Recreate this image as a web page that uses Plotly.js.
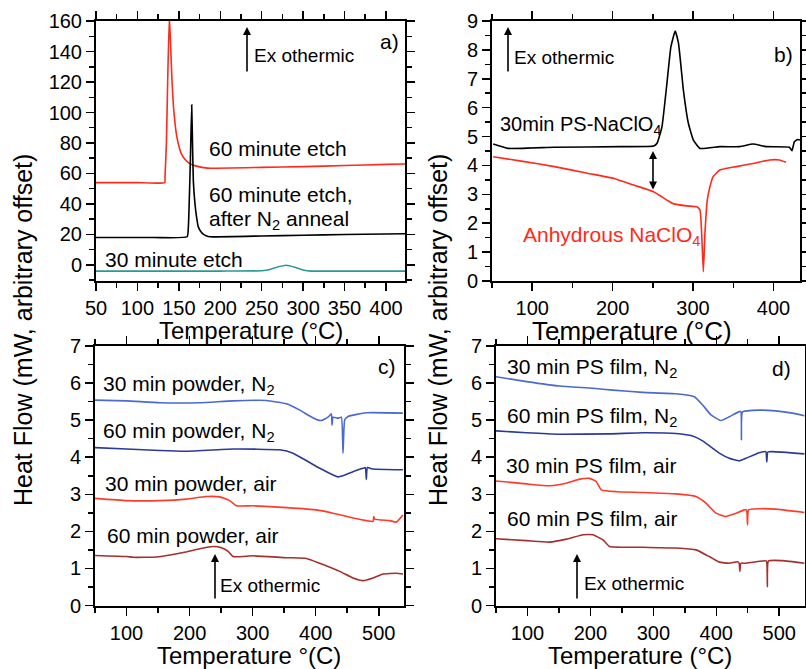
<!DOCTYPE html>
<html><head><meta charset="utf-8">
<script src="https://cdn.plot.ly/plotly-3.0.1.min.js"></script>
<style>html,body{margin:0;padding:0;background:#fff}#chart{width:806px;height:669px}</style>
</head><body><div id="chart"></div>
<script>
// ---------- Panel a) ----------
const aRedT = [50, 100, 133, 133.3, 135, 136.5, 138.5, 139.5, 140.5, 141.5, 142.5, 143.5, 145, 147, 150, 153, 157, 163, 170, 178, 185, 250, 300, 350, 400, 423];
const aRedV = [54, 54, 54, 58, 80, 120, 163, 152, 138, 124, 113, 104, 95, 86, 78, 73, 69.5, 66.5, 65, 64, 63.5, 64, 64.5, 65.2, 66, 66.2];
const aBlkT = [50, 120, 160, 161.5, 163, 164, 165.5, 166.5, 167.5, 169.5, 171.5, 173.5, 176.5, 179.5, 183.5, 187.6, 250, 300, 350, 423];
const aBlkV = [18, 18, 18.5, 25, 50, 70, 105, 80, 55, 40, 31, 25, 22, 20.2, 19, 18.5, 19, 19.5, 20, 20.5];
const aTealT = [50, 200, 250, 260, 270, 280, 290, 300, 310, 350, 423];
const aTealV = [-4, -4, -3.8, -3, -1.2, -0.2, -1.5, -3.3, -4, -4, -4];

// ---------- Panel b) ----------
const bBlkT = [51.5, 70, 127.6, 210, 251, 255.2, 261.3, 267.5, 272.5, 277.8, 281.9, 288, 294.2, 300.4, 308.6, 333.3, 358, 374.5, 391, 419.8, 423, 426, 430.1, 433];
const bBlkV = [4.74, 4.59, 4.63, 4.65, 4.67, 4.77, 5.33, 6.84, 8.11, 8.65, 8.23, 6.61, 5.46, 4.88, 4.59, 4.65, 4.65, 4.74, 4.65, 4.63, 4.51, 4.82, 4.90, 4.88];
const bRedT = [51.5, 86.4, 127.6, 168.7, 201.6, 226.3, 251, 267.5, 275.7, 292.2, 304.6, 308.6, 310.7, 312.8, 314.8, 317.7, 321, 325, 333.3, 354, 374.5, 395, 407.4, 415.7];
const bRedV = [4.30, 4.15, 3.96, 3.73, 3.55, 3.32, 3.09, 2.80, 2.67, 2.60, 2.57, 2.46, 1.65, 0.32, 1.65, 2.80, 3.26, 3.61, 3.84, 3.96, 4.07, 4.19, 4.19, 4.11];

// ---------- Panel c) ----------
const cT1 = [50, 100, 152.8, 216.2, 269, 321.9, 353.6, 374.7, 390.5, 401.1, 409, 419.5, 424.8, 425.9, 427.5, 435.4, 440.7, 443.3, 446, 451.3, 480.3, 538.3];
const cV1 = [5.54, 5.52, 5.47, 5.47, 5.52, 5.53, 5.44, 5.27, 5.11, 5.02, 4.99, 5.08, 5.17, 4.87, 5.08, 5.05, 5.08, 4.11, 5.01, 5.10, 5.20, 5.19];
const cT2 = [50, 100, 152.8, 190, 269, 343, 364, 385, 401, 417, 427.5, 435.4, 443.3, 459.2, 475, 478.7, 480.3, 481.9, 490.9, 538.3];
const cV2 = [4.26, 4.22, 4.18, 4.16, 4.22, 4.20, 4.11, 3.91, 3.75, 3.61, 3.52, 3.47, 3.50, 3.61, 3.70, 3.72, 3.40, 3.72, 3.68, 3.66];
const cT3 = [50, 100, 152.8, 195, 226.6, 247.8, 263.6, 274.2, 300.6, 353.6, 401, 427.5, 459.2, 480.3, 490.9, 492, 493.5, 517.3, 527.9, 538.3];
const cV3 = [2.89, 2.83, 2.83, 2.87, 2.94, 2.93, 2.83, 2.69, 2.69, 2.64, 2.58, 2.49, 2.36, 2.29, 2.27, 2.40, 2.33, 2.29, 2.25, 2.44];
const cT4 = [50, 100, 110.6, 147.6, 190, 216.2, 237.4, 250.6, 261.2, 269, 300.6, 353.6, 385.3, 406.4, 438.1, 459.2, 475, 490.9, 506.7, 527.9, 538.3];
const cV4 = [1.35, 1.32, 1.30, 1.31, 1.43, 1.53, 1.59, 1.56, 1.46, 1.32, 1.34, 1.29, 1.27, 1.14, 0.92, 0.74, 0.67, 0.74, 0.85, 0.87, 0.85];

// ---------- Panel d) ----------
const dT1 = [49.8, 98.4, 151.2, 204, 235.7, 283.2, 336.1, 365.1, 378.3, 391.6, 407.5, 420.6, 436.4, 439.1, 440, 441.7, 468.1, 494.6, 520.9, 540];
const dV1 = [6.17, 6.04, 5.92, 5.86, 5.81, 5.75, 5.71, 5.63, 5.41, 5.14, 4.99, 5.09, 5.23, 5.23, 4.47, 5.22, 5.27, 5.25, 5.19, 5.12];
const dT2 = [49.8, 98.4, 151.2, 230.4, 283.2, 336.1, 362.5, 378.3, 394.2, 404.8, 420.6, 436.4, 447, 468.1, 478.7, 480.3, 481.9, 489.3, 540];
const dV2 = [4.71, 4.66, 4.62, 4.63, 4.66, 4.64, 4.57, 4.44, 4.24, 4.11, 3.97, 3.90, 3.97, 4.12, 4.15, 3.87, 4.14, 4.15, 4.09];
const dT3 = [49.8, 98.4, 135.4, 161.8, 183, 198.8, 209.4, 217.3, 241.1, 283.2, 336.1, 367.8, 383.7, 399.5, 415.4, 428.6, 444.4, 448.1, 449.7, 451.3, 468.1, 494.6, 540];
const dV3 = [3.36, 3.28, 3.23, 3.30, 3.41, 3.43, 3.34, 3.12, 3.07, 3.05, 3.01, 2.94, 2.76, 2.49, 2.40, 2.47, 2.58, 2.58, 2.18, 2.58, 2.61, 2.60, 2.51];
const dT4 = [49.8, 98.4, 135.4, 161.8, 188.3, 204.1, 220, 230.5, 283.2, 336.1, 367.8, 388.9, 404.8, 420.6, 433.8, 436.4, 437.5, 439.1, 447, 473.4, 479.7, 481.2, 482.9, 505.1, 540];
const dV4 = [1.80, 1.75, 1.71, 1.79, 1.91, 1.91, 1.77, 1.59, 1.57, 1.55, 1.50, 1.32, 1.17, 1.14, 1.18, 1.14, 0.92, 1.14, 1.14, 1.20, 1.20, 0.51, 1.20, 1.21, 1.14];

const F = 'Liberation Sans, Arial, Helvetica, sans-serif';
const W = 806, H = 669;
const px = x => x / W, py = y => 1 - y / H;

function ln(x, y, color, xa, ya) {
  return {x, y, type: 'scatter', mode: 'lines', line: {color, width: 1.6, shape: 'spline', smoothing: 0.4}, xaxis: xa, yaxis: ya, hoverinfo: 'skip'};
}
const traces = [
  ln(aRedT, aRedV, '#ff2a1a', 'x', 'y'),
  ln(aBlkT, aBlkV, '#000000', 'x', 'y'),
  ln(aTealT, aTealV, '#2a9896', 'x', 'y'),
  ln(bBlkT, bBlkV, '#000000', 'x2', 'y2'),
  ln(bRedT, bRedV, '#ff2a1a', 'x2', 'y2'),
  ln(cT1, cV1, '#4a6acd', 'x3', 'y3'),
  ln(cT2, cV2, '#2c3a96', 'x3', 'y3'),
  ln(cT3, cV3, '#ff3a2a', 'x3', 'y3'),
  ln(cT4, cV4, '#a3302c', 'x3', 'y3'),
  ln(dT1, dV1, '#4a6acd', 'x4', 'y4'),
  ln(dT2, dV2, '#2c3a96', 'x4', 'y4'),
  ln(dT3, dV3, '#ff3a2a', 'x4', 'y4'),
  ln(dT4, dV4, '#a3302c', 'x4', 'y4')
];

function axis(domain, range, dtick, minor, anchor) {
  return {
    domain, range, dtick, tick0: 0, anchor,
    ticks: 'outside', ticklen: 8, tickwidth: 1.5, tickcolor: '#000',
    showline: true, linecolor: '#000', linewidth: 2, mirror: 'allticks',
    showgrid: false, zeroline: false, fixedrange: true,
    tickfont: {family: F, size: 20, color: '#000'},
    minor: {dtick: minor, tick0: 0, ticks: 'outside', ticklen: 5, tickwidth: 1.5, tickcolor: '#000', showgrid: false}
  };
}

const dAx = [px(96), px(405)], dBx = [px(492), px(800)], dCx = [px(95), px(404)], dDx = [px(496), px(805)];
const dTop = [py(281), py(21)], dBot = [py(605.5), py(346)];

function txt(x, y, text, size, color, xanchor) {
  return {xref: 'paper', yref: 'paper', x: px(x), y: py(y), text, showarrow: false,
    xanchor: xanchor || 'left', yanchor: 'middle', font: {family: F, size: size || 21, color: color || '#000'}};
}
function arrow(x, yHead, yTail, both) {
  return {xref: 'paper', yref: 'paper', x: px(x), y: py(yHead), ax: 0, ay: yTail - yHead, axref: 'pixel', ayref: 'pixel',
    text: '', showarrow: true, arrowhead: 2, arrowsize: 1, arrowwidth: 1.6, arrowcolor: '#000',
    arrowside: both ? 'end+start' : 'end', startarrowhead: 2, startarrowsize: 1};
}

const annotations = [
  // panel a
  txt(207, 148, '60 minute etch'),
  txt(207, 195, '60 minute etch,'),
  txt(207, 220, 'after N<sub>2</sub> anneal'),
  txt(103, 260, '30 minute etch'),
  txt(252, 56, 'Ex othermic', 19),
  txt(401, 42, 'a)', 21, '#000', 'right'),
  arrow(247, 27, 73),
  // panel b
  txt(498, 126, '30min PS-NaClO<sub>4</sub>', 20),
  txt(521, 236, 'Anhydrous NaClO<sub>4</sub>', 21, '#ff2a1a'),
  txt(512, 57, 'Ex othermic', 19),
  txt(795, 55, 'b)', 21, '#000', 'right'),
  arrow(508, 27, 73),
  arrow(653, 151, 191, true),
  // panel c
  txt(101, 385, '30 min powder, N<sub>2</sub>'),
  txt(101, 432, '60 min powder, N<sub>2</sub>'),
  txt(103, 483, '30 min powder, air'),
  txt(105, 535, '60 min powder, air'),
  txt(218, 585, 'Ex othermic', 19),
  txt(398, 366, 'c)', 21, '#000', 'right'),
  arrow(215, 554, 600),
  // panel d
  txt(505, 368, '30 min PS film, N<sub>2</sub>'),
  txt(505, 417, '60 min PS film, N<sub>2</sub>'),
  txt(504, 465, '30 min PS film, air'),
  txt(505, 518, '60 min PS film, air'),
  txt(582, 583, 'Ex othermic', 19),
  txt(793, 368, 'd)', 21, '#000', 'right'),
  arrow(577, 554, 600),
  // axis titles
  txt(251, 330, 'Temperature (°C)', 24, '#000', 'center'),
  txt(632, 331, 'Temperature (°C)', 26, '#000', 'center'),
  txt(249, 655, 'Temperature °(C)', 24, '#000', 'center'),
  txt(640, 655, 'Temperature (°C)', 24, '#000', 'center'),
  Object.assign(txt(23, 330, 'Heat Flow (mW, arbitrary offset)', 25, '#000', 'center'), {textangle: -90}),
  Object.assign(txt(438, 330, 'Heat Flow (mW, arbitrary offset)', 25, '#000', 'center'), {textangle: -90})
];

const layout = {
  width: W, height: H, margin: {l: 0, r: 0, t: 0, b: 0},
  paper_bgcolor: '#fff', plot_bgcolor: '#fff', showlegend: false,
  font: {family: F, color: '#000'},
  xaxis: axis(dAx, [50, 423], 50, 25, 'y'),
  yaxis: axis(dTop, [-10.5, 160], 20, 10, 'x'),
  xaxis2: axis(dBx, [50, 433], 100, 50, 'y2'),
  yaxis2: axis(dTop, [0, 9], 1, 0.5, 'x2'),
  xaxis3: axis(dCx, [50, 540], 100, 50, 'y3'),
  yaxis3: axis(dBot, [0, 7], 1, 0.5, 'x3'),
  xaxis4: axis(dDx, [50, 541], 100, 50, 'y4'),
  yaxis4: axis(dBot, [0, 7], 1, 0.5, 'x4'),
  annotations
};

Plotly.newPlot('chart', traces, layout, {displayModeBar: false, staticPlot: true});
</script></body></html>
